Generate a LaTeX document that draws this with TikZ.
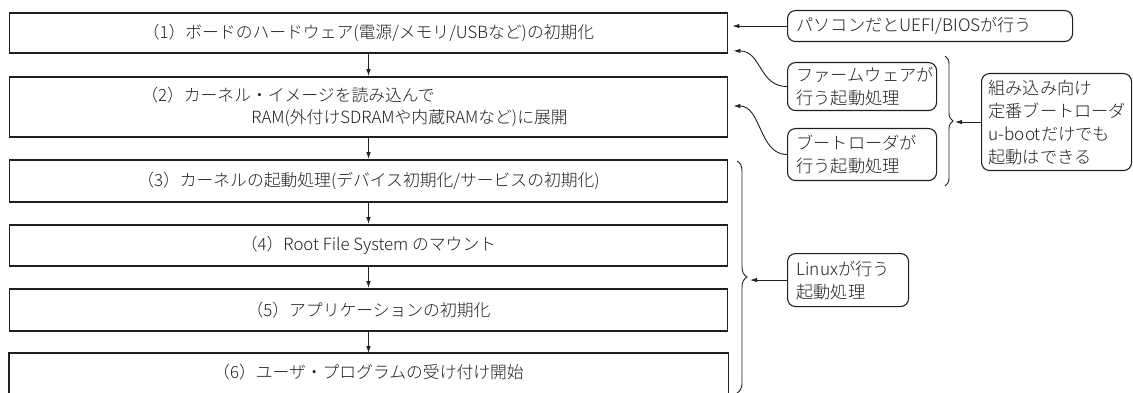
\documentclass[tikz,border=0pt]{standalone}
\usepackage{fontspec}
\setmainfont{Noto Sans CJK JP Light}
\usetikzlibrary{arrows.meta,decorations.pathreplacing,calc}
\definecolor{ink}{RGB}{35,31,32}
\begin{document}
\begin{tikzpicture}[x=1pt,y=-1pt,
  box/.style={draw=ink, line width=1.8pt, minimum width=718pt, inner sep=0pt, text=ink,
    font=\fontsize{16.8}{22}\selectfont},
  boxtext/.style={inner sep=0pt, text=ink, font=\fontsize{16.8}{22}\selectfont},
  call/.style={draw=ink, line width=1.1pt, rounded corners=8pt, anchor=north west, align=left,
    inner xsep=9pt, inner ysep=2pt, text=ink, font=\fontsize{17.2}{23}\selectfont},
  arr/.style={draw=ink, line width=0.9pt, -{Latex[length=7pt,width=4.5pt]}},
  brace/.style={draw=ink, line width=0.9pt, decorate, decoration={brace, amplitude=8pt}}
]
\useasboundingbox (0,0) rectangle (1133,393);

% main boxes
\node[box, minimum height=40.3pt] (b1) at (368.5,32.85) {（1）ボードのハードウェア(電源/メモリ/USBなど)の初期化};
\node[box, minimum height=60pt] (b2) at (368.5,107) {};
\node[boxtext, align=left, anchor=west] (t2) at ($(b2.west)+(132.5,0)$) {（2）カーネル・イメージを読み込んで\\\hspace*{110pt}RAM(外付けSDRAMや内蔵RAMなど)に展開};
\node[box, minimum height=42pt] (b3) at (368.5,181) {（3）カーネルの起動処理(デバイス初期化/サービスの初期化)};
\node[box, minimum height=41pt] (b4) at (368.5,245.5) {（4）Root File System のマウント};
\node[box, minimum height=42pt] (b5) at (368.5,310) {（5）アプリケーションの初期化};
\node[box, draw=none, minimum height=36pt] (b6) at (368.5,372) {（6）ユーザ・プログラムの受け付け開始};
\draw[ink, line width=1.8pt] ([yshift=-8pt]b6.south west) -- (b6.north west) -- (b6.north east) -- ([yshift=-8pt]b6.south east);

\draw[arr] (b1.south) -- (b2.north);
\draw[arr] (b2.south) -- (b3.north);
\draw[arr] (b3.south) -- (b4.north);
\draw[arr] (b4.south) -- (b5.north);
\draw[arr] (b5.south) -- (b6.north);

% callouts
\node[call, text width=267pt, minimum height=31pt] (c1) at (787,10) {パソコンだとUEFI/BIOSが行う};
\node[call, text width=131pt, minimum height=48pt] (c2) at (787,62) {ファームウェアが\\行う起動処理};
\node[call, text width=131pt, minimum height=52pt] (c3) at (787,128) {ブートローダが\\行う起動処理};
\node[call, text width=136pt, inner xsep=7pt, minimum height=97pt] (c4) at (981,73) {組み込み向け\\定番ブートローダ\\u-bootだけでも\\起動はできる};
\node[call, text width=103pt, minimum height=53pt] (c5) at (787,253) {Linuxが行う\\起動処理};

\draw[arr] (c1.west) -- ($(b1.east |- c1.west)+(4,0)$);
\draw[arr] (c2.west) .. controls +(-28,0) and +(28,0) .. ($(b1.south east)+(5,-3)$);
\draw[arr] (c3.west) .. controls +(-28,0) and +(28,0) .. ($(b2.east)+(5,-1)$);

% braces
\draw[brace] (945,56) -- (945,186);
\coordinate (br1) at (955,121);
\draw[arr] (c4.west) -- (br1 |- c4.west);

\draw[brace, decoration={brace, amplitude=10pt}] (737,161) -- (737,393);
\coordinate (br2) at (750,277);
\draw[arr] (c5.west) -- (br2 |- c5.west);
\end{tikzpicture}
\end{document}
